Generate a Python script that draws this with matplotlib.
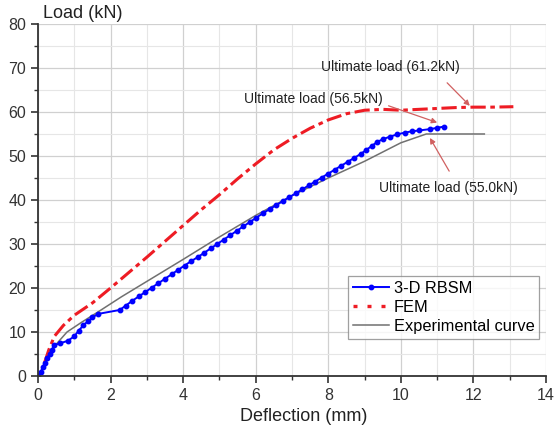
import numpy as np
import matplotlib.pyplot as plt
from matplotlib.lines import Line2D
from matplotlib.ticker import MultipleLocator

plt.rcParams['font.family'] = ['Liberation Sans', 'DejaVu Sans']

# 3-D RBSM (blue, with markers)
rbsm_x = [0.0, 0.08, 0.14, 0.2, 0.26, 0.32, 0.38, 0.45, 0.6, 0.82, 1.0, 1.12,
          1.25, 1.38, 1.5, 1.65, 2.25, 2.42, 2.6, 2.78, 2.96, 3.14, 3.32, 3.5,
          3.68, 3.86, 4.04, 4.22, 4.4, 4.58, 4.76, 4.94, 5.12, 5.3, 5.48, 5.66,
          5.84, 6.02, 6.2, 6.38, 6.56, 6.74, 6.92, 7.1, 7.28, 7.46, 7.64, 7.82,
          8.0, 8.18, 8.36, 8.54, 8.72, 8.9, 9.05, 9.2, 9.35, 9.5, 9.7, 9.9,
          10.1, 10.3, 10.5, 10.8, 11.0, 11.2]
rbsm_y = [0.0, 1.0, 2.0, 3.0, 4.0, 5.0, 6.0, 7.0, 7.4, 8.0, 9.0, 10.3,
          11.5, 12.5, 13.3, 14.1, 15.0, 16.0, 17.1, 18.1, 19.1, 20.1, 21.1, 22.1,
          23.1, 24.1, 25.1, 26.1, 27.0, 28.0, 29.0, 30.0, 31.0, 32.0, 33.0, 34.0,
          35.0, 36.0, 37.0, 37.9, 38.8, 39.7, 40.6, 41.5, 42.4, 43.3, 44.2, 45.1,
          46.0, 46.9, 47.8, 48.7, 49.6, 50.5, 51.4, 52.3, 53.2, 53.8, 54.4, 54.9,
          55.3, 55.6, 55.8, 56.1, 56.4, 56.7]

# FEM (red)
fem_x = [0.18, 0.3, 0.45, 0.7, 1.0, 1.5, 2.0, 2.5, 3.0, 3.5, 4.0, 4.5, 5.0,
         5.5, 6.0, 6.5, 7.0, 7.5, 8.0, 8.5, 9.0, 9.5, 10.0, 10.5, 11.0, 11.5,
         12.0, 12.5, 13.1]
fem_y = [3.0, 6.0, 9.0, 11.5, 13.8, 16.6, 20.0, 23.5, 27.0, 30.6, 34.2, 37.8,
         41.2, 44.8, 48.2, 51.4, 54.0, 56.3, 58.2, 59.6, 60.4, 60.6, 60.4, 60.6,
         60.8, 61.0, 61.1, 61.1, 61.2]

# Experimental curve (gray)
exp_x = [0.0, 0.5, 0.8, 1.2, 1.7, 2.3, 3.0, 4.0, 5.0, 6.0, 7.0, 8.0, 9.0,
         10.0, 10.7, 12.3]
exp_y = [0.0, 7.2, 10.0, 12.2, 14.8, 18.0, 21.5, 26.5, 31.6, 36.5, 41.0, 45.0,
         48.8, 53.0, 55.0, 55.0]

fig = plt.figure(figsize=(5.54, 4.26), dpi=100)
ax = fig.add_axes([0.0686, 0.1174, 0.917, 0.8263])

ax.plot(fem_x, fem_y, color='#ee1c24', lw=2.2, linestyle=(0, (5, 1.5, 1.5, 1.5)))
ax.plot(exp_x, exp_y, color='#707070', lw=1.1)
ax.plot(rbsm_x, rbsm_y, color='#0000ff', lw=1.4, marker='o', ms=3.2)

ax.set_xlim(0, 14)
ax.set_ylim(0, 80)
ax.xaxis.set_major_locator(MultipleLocator(2))
ax.xaxis.set_minor_locator(MultipleLocator(1))
ax.yaxis.set_major_locator(MultipleLocator(10))
ax.yaxis.set_minor_locator(MultipleLocator(5))
ax.grid(which='major', color='#d0d0d0', lw=0.9)
ax.grid(which='minor', color='#e6e6e6', lw=0.8)
ax.set_axisbelow(True)

for s in ['top', 'right']:
    ax.spines[s].set_visible(False)
for s in ['left', 'bottom']:
    ax.spines[s].set_linewidth(1.3)
    ax.spines[s].set_color('#333333')
ax.tick_params(which='major', direction='out', length=5, width=1.2,
               labelsize=11.5, colors='#333333')
ax.tick_params(which='minor', direction='out', length=3, width=1.0, colors='#333333')

ax.set_xlabel('Deflection (mm)', fontsize=13, color='#222222')
ax.xaxis.set_label_coords(0.522, -0.09)
ax.text(0.15, 80.4, 'Load (kN)', fontsize=13, color='#222222', va='bottom', ha='left')

arrow = dict(arrowstyle='-|>', color='#d06060', lw=0.9, mutation_scale=8)
ax.annotate('Ultimate load (61.2kN)', xy=(11.9, 61.4), xytext=(9.7, 70.2),
            fontsize=10, color='#222222', ha='center', va='center',
            arrowprops=dict(arrow, shrinkA=6, shrinkB=0, relpos=(0.85, 0.0)))
ax.annotate('Ultimate load (56.5kN)', xy=(11.0, 57.6), xytext=(7.6, 63.0),
            fontsize=10, color='#222222', ha='center', va='center',
            arrowprops=dict(arrow, shrinkA=2, shrinkB=0, relpos=(0.98, 0.2)))
ax.annotate('Ultimate load (55.0kN)', xy=(10.8, 54.1), xytext=(11.3, 42.7),
            fontsize=10, color='#222222', ha='center', va='center',
            arrowprops=dict(arrow, shrinkA=6, shrinkB=0, relpos=(0.55, 1.0)))

handles = [
    Line2D([], [], color='#0000ff', lw=1.4, marker='o', ms=3.2),
    Line2D([], [], color='#ee1c24', lw=2.4, linestyle=(0, (1.2, 3))),
    Line2D([], [], color='#707070', lw=1.1),
]
leg = ax.legend(handles, ['3-D RBSM', 'FEM', 'Experimental curve'],
                loc='upper left', bbox_to_anchor=(0.61, 0.285), fontsize=11.8,
                frameon=True, fancybox=False, edgecolor='#888888',
                handlelength=2.2, borderpad=0.3, labelspacing=0.25,
                handletextpad=0.3, borderaxespad=0)
leg.get_frame().set_linewidth(0.9)

fig.savefig('out.png', dpi=100)
